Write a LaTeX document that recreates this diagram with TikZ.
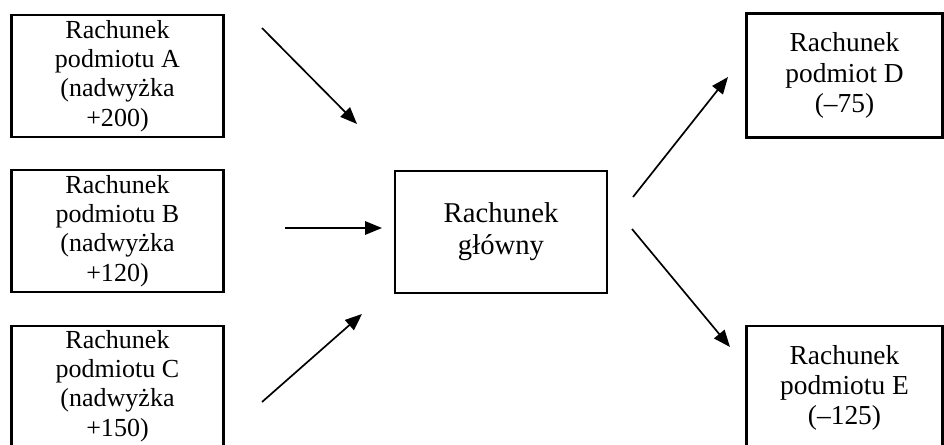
\documentclass[tikz,border=0pt]{standalone}
\usepackage{fontspec}
\setmainfont{Liberation Serif}
\usetikzlibrary{arrows.meta,positioning}
\tikzset{
  >={Triangle[length=12pt,width=9.5pt]},
  acct/.style={draw=black,line width=1.7pt,minimum width=#1,minimum height=3.05cm,
    inner sep=0pt,align=center,font=\fontsize{18.5}{20.8}\selectfont},
  acct/.default=5.3cm,
  flow/.style={->,line width=1.2pt,draw=black},
}
\begin{document}
\begin{tikzpicture}[x=0.025cm,y=-0.025cm]
  \useasboundingbox (0,0) rectangle (944,445);
  % accounts on the left
  \node[acct] (ra) at (117.5,76) {Rachunek\\podmiotu A\\(nadwyżka\\+200)};
  \node[acct] (rb) at (117.5,231) {Rachunek\\podmiotu B\\(nadwyżka\\+120)};
  \node[acct,minimum height=3cm] (rc) at (117.5,386) {Rachunek\\podmiotu C\\(nadwyżka\\+150)};
  % main account
  \node[acct,font=\fontsize{20.4}{22.6}\selectfont] (main) at (501,232) {Rachunek\\główny};
  % accounts on the right
  \node[acct=4.9cm,minimum height=3.1cm,font=\fontsize{19.5}{21.5}\selectfont] (rd) at (844.5,75.5) {Rachunek\\podmiot D\\(–75)};
  \node[acct=4.9cm,minimum height=3.1cm,font=\fontsize{19.5}{21.5}\selectfont] (re) at (844.5,388) {Rachunek\\podmiotu E\\(–125)};
  % arrow ends
  \coordinate (a0) at (262,28);  \coordinate (a1) at (357,124);
  \coordinate (b0) at (285,228); \coordinate (b1) at (382,228);
  \coordinate (c0) at (262,402); \coordinate (c1) at (362,314);
  \coordinate (d0) at (633,197); \coordinate (d1) at (728,77);
  \coordinate (e0) at (632,229); \coordinate (e1) at (730,347);
  \foreach \n in {a,b,c,d,e} \draw[flow] (\n0) -- (\n1);
\end{tikzpicture}
\end{document}
